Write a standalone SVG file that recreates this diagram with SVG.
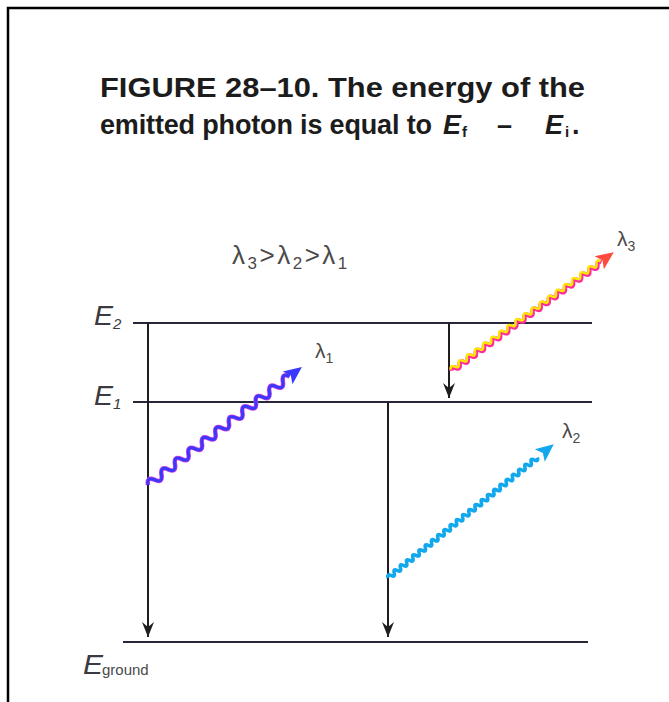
<svg xmlns="http://www.w3.org/2000/svg" width="669" height="702" viewBox="0 0 669 702">
<style>
.title{font-family:"Liberation Sans",Arial,sans-serif;font-weight:bold;font-size:27px;fill:#1c1c1c}
.lab{font-family:"Liberation Sans",Arial,sans-serif;font-size:21px;fill:#4a4a4a}
.sub{font-size:14px}
.el{font-family:"Liberation Sans",Arial,sans-serif;font-style:italic;font-size:28px;fill:#3a3a40}
.lvl{stroke:#26283a;stroke-width:2.2;fill:none}
.tr{stroke:#1e1e1e;stroke-width:2;fill:none}
</style>
<defs>
<marker id="ah" markerWidth="16" markerHeight="12" refX="15" refY="6" orient="auto" markerUnits="userSpaceOnUse">
<path d="M0,0 L15,6 L0,12 L5,6 Z" fill="#1e1e1e"/>
</marker>
</defs>
<rect width="669" height="702" fill="#fff"/>
<path d="M8,702 V8 H669" fill="none" stroke="#000" stroke-width="2.5"/>
<g id="title">
<text class="title" x="100" y="97" style="font-size:28px" textLength="485" lengthAdjust="spacingAndGlyphs">FIGURE 28–10. The energy of the</text>
<text class="title" x="100" y="134" textLength="332">emitted photon is equal to</text>
<text class="title" x="443" y="134" font-style="italic">E</text>
<text class="title" x="462" y="137" style="font-size:15px">f</text>
<text class="title" x="497" y="134">–</text>
<text class="title" x="545" y="134" font-style="italic">E</text>
<text class="title" x="565" y="137" style="font-size:15px">i</text>
<text class="title" x="572" y="134">.</text>
</g>
<g id="order">
<text class="lab" x="232" y="264" style="font-size:26px" letter-spacing="2.5">λ<tspan style="font-size:17px" dy="5">3</tspan><tspan dy="-5">&gt;λ</tspan><tspan style="font-size:17px" dy="5">2</tspan><tspan dy="-5">&gt;λ</tspan><tspan style="font-size:17px" dy="5">1</tspan></text>
</g>
<g id="levels">
<g id="E2"><line class="lvl" x1="133" y1="323" x2="592" y2="323"/><text class="el" x="94" y="325" textLength="19" lengthAdjust="spacingAndGlyphs">E</text><text class="el" x="113" y="329" style="font-size:15px">2</text></g>
<g id="E1"><line class="lvl" x1="133" y1="402" x2="592" y2="402"/><text class="el" x="94" y="405" textLength="19" lengthAdjust="spacingAndGlyphs">E</text><text class="el" x="113" y="409" style="font-size:15px">1</text></g>
<g id="Eground"><line class="lvl" x1="123" y1="642" x2="588" y2="642"/><text class="el" x="83" y="674" textLength="20" lengthAdjust="spacingAndGlyphs">E</text><text class="lab" x="102" y="675" style="font-size:15px">ground</text></g>
</g>
<g id="connectors">
<line class="tr" x1="148" y1="323" x2="148" y2="637" marker-end="url(#ah)"/>
<line class="tr" x1="388" y1="402" x2="388" y2="637" marker-end="url(#ah)"/>
<line class="tr" x1="449" y1="323" x2="449" y2="398" marker-end="url(#ah)"/>
</g>
<g id="photon1">
<g transform="translate(148,485) rotate(-37.5)">
<path d="M0,0 q4.25,-8 8.5,0 t8.5,0 t8.5,0 t8.5,0 t8.5,0 t8.5,0 t8.5,0 t8.5,0 t8.5,0 t8.5,0 t8.5,0 t8.5,0 t8.5,0 t8.5,0 t8.5,0 t8.5,0 t8.5,0 t8.5,0 t8.5,0 t8.5,0 t8.5,0" fill="none" stroke="#d040e0" stroke-width="4.5"/>
<path d="M0,0 q4.25,-8 8.5,0 t8.5,0 t8.5,0 t8.5,0 t8.5,0 t8.5,0 t8.5,0 t8.5,0 t8.5,0 t8.5,0 t8.5,0 t8.5,0 t8.5,0 t8.5,0 t8.5,0 t8.5,0 t8.5,0 t8.5,0 t8.5,0 t8.5,0 t8.5,0" fill="none" stroke="#3838ff" stroke-width="3"/>
<path d="M194,0 L176,-8 L180,0 L176,8 Z" fill="#3838ff"/>
</g>
<text class="lab" x="315" y="358">λ<tspan class="sub" dy="5">1</tspan></text>
</g>
<g id="photon3">
<g transform="translate(451,370) rotate(-35.9)">
<path d="M0,1 q2.5,-4.5 5,0 t5,0 t5,0 t5,0 t5,0 t5,0 t5,0 t5,0 t5,0 t5,0 t5,0 t5,0 t5,0 t5,0 t5,0 t5,0 t5,0 t5,0 t5,0 t5,0 t5,0 t5,0 t5,0 t5,0 t5,0 t5,0 t5,0 t5,0 t5,0 t5,0 t5,0 t5,0 t5,0 t5,0 t5,0 t5,0 t5,0" fill="none" stroke="#ff2c9c" stroke-width="4.5"/>
<path d="M0,-0.5 q2.5,-4.5 5,0 t5,0 t5,0 t5,0 t5,0 t5,0 t5,0 t5,0 t5,0 t5,0 t5,0 t5,0 t5,0 t5,0 t5,0 t5,0 t5,0 t5,0 t5,0 t5,0 t5,0 t5,0 t5,0 t5,0 t5,0 t5,0 t5,0 t5,0 t5,0 t5,0 t5,0 t5,0 t5,0 t5,0 t5,0 t5,0 t5,0" fill="none" stroke="#ffe800" stroke-width="2.5"/>
<path d="M201,0 L183,-8 L187,0 L183,8 Z" fill="#ff4a40"/>
</g>
<text class="lab" x="617" y="246">λ<tspan class="sub" dy="5">3</tspan></text>
</g>
<g id="photon2">
<g transform="translate(388,578) rotate(-38.9)">
<path d="M0,0 q2,-4.5 4,0 t4,0 t4,0 t4,0 t4,0 t4,0 t4,0 t4,0 t4,0 t4,0 t4,0 t4,0 t4,0 t4,0 t4,0 t4,0 t4,0 t4,0 t4,0 t4,0 t4,0 t4,0 t4,0 t4,0 t4,0 t4,0 t4,0 t4,0 t4,0 t4,0 t4,0 t4,0 t4,0 t4,0 t4,0 t4,0 t4,0 t4,0 t4,0 t4,0 t4,0 t4,0 t4,0 t4,0 t4,0 t4,0 t4,0 t4,0" fill="none" stroke="#12a8ee" stroke-width="3.5"/>
<path d="M213,0 L195,-8 L199,0 L195,8 Z" fill="#12a8ee"/>
</g>
<text class="lab" x="562" y="438">λ<tspan class="sub" dy="5">2</tspan></text>
</g>
</svg>
